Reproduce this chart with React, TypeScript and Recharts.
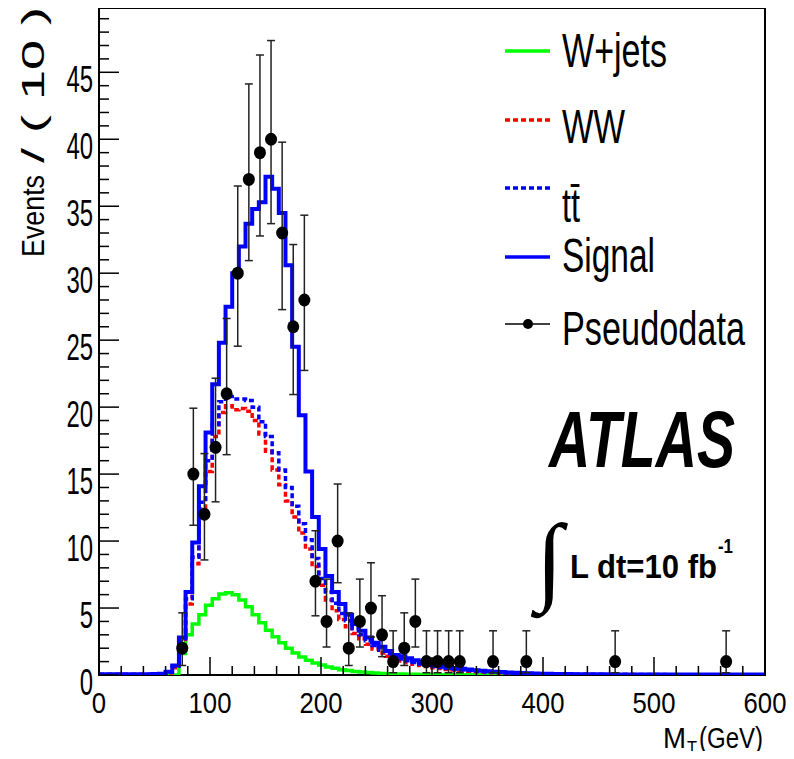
import React from "react";
import {
  ComposedChart, Line, Scatter, ErrorBar, XAxis, YAxis, Legend, ReferenceArea,
} from "recharts";

// histogram contents, 100 bins of 6 GeV from 0 to 600
const WJETS = [
  0, 0, 0, 0, 0, 0, 0, 0, 0, 0,
  0, 0, 1.6, 3.0, 3.8, 4.5, 5.2, 5.7, 6.05, 6.15,
  6.0, 5.6, 5.1, 4.5, 3.9, 3.35, 2.85, 2.4, 2.0, 1.65,
  1.35, 1.1, 0.9, 0.75, 0.6, 0.5, 0.4, 0.33, 0.27, 0.22,
  0.18, 0.15, 0.12, 0.1, 0.08, 0.07, 0.06, 0.05, 0.04, 0.03,
  0.03, 0.02, 0.02, 0.02, 0.01, 0.01, 0.01, 0.01, 0.01, 0.01,
  0, 0, 0, 0, 0, 0, 0, 0, 0, 0,
  0, 0, 0, 0, 0, 0, 0, 0, 0, 0,
  0, 0, 0, 0, 0, 0, 0, 0, 0, 0,
  0, 0, 0, 0, 0, 0, 0, 0, 0, 0,
];
const WW = [
  0.03, 0.03, 0.03, 0.03, 0.03, 0.03, 0.03, 0.03, 0.05, 0.07,
  0.15, 0.55, 2.5, 5.3, 8.3, 12.4, 15.2, 17.8, 19.6, 20.1,
  19.8, 19.9, 19.7, 19.0, 18.0, 16.7, 15.3, 14.2, 13.0, 11.8,
  10.6, 9.4, 8.1, 6.7, 5.6, 4.8, 4.15, 3.6, 3.1, 2.7,
  2.3, 1.95, 1.65, 1.4, 1.2, 1.05, 0.92, 0.81, 0.71, 0.63,
  0.55, 0.48, 0.42, 0.37, 0.32, 0.28, 0.25, 0.22, 0.19, 0.17,
  0.15, 0.13, 0.11, 0.1, 0.09, 0.08, 0.07, 0.06, 0.05, 0.05,
  0.04, 0.04, 0.04, 0.04, 0.03, 0.03, 0.03, 0.03, 0.03, 0.03,
  0.02, 0.02, 0.02, 0.02, 0.02, 0.02, 0.02, 0.02, 0.02, 0.02,
  0.02, 0.02, 0.02, 0.02, 0.02, 0.02, 0.02, 0.02, 0.02, 0.02,
];
const TTBAR = [
  0.04, 0.04, 0.04, 0.04, 0.04, 0.04, 0.04, 0.04, 0.06, 0.08,
  0.2, 0.65, 2.7, 5.7, 8.8, 12.9, 16.0, 18.7, 20.4, 20.8,
  20.6, 20.6, 20.5, 20.0, 18.9, 17.8, 16.6, 15.3, 14.0, 12.6,
  11.3, 10.1, 8.7, 7.2, 6.2, 5.35, 4.6, 4.05, 3.45, 3.0,
  2.55, 2.2, 1.85, 1.6, 1.4, 1.2, 1.06, 0.94, 0.83, 0.73,
  0.64, 0.56, 0.49, 0.43, 0.38, 0.33, 0.29, 0.26, 0.23, 0.2,
  0.18, 0.16, 0.14, 0.12, 0.11, 0.1, 0.09, 0.08, 0.07, 0.06,
  0.06, 0.05, 0.05, 0.05, 0.04, 0.04, 0.04, 0.04, 0.03, 0.03,
  0.03, 0.03, 0.03, 0.03, 0.03, 0.02, 0.02, 0.02, 0.02, 0.02,
  0.02, 0.02, 0.02, 0.02, 0.02, 0.02, 0.02, 0.02, 0.02, 0.02,
];
const SIGNAL = [
  0.05, 0.05, 0.05, 0.05, 0.05, 0.05, 0.05, 0.05, 0.08, 0.1,
  0.25, 0.7, 2.8, 6.2, 9.9, 14.1, 18.1, 21.7, 24.8, 27.5,
  30.0, 32.0, 33.7, 34.8, 35.3, 37.2, 36.3, 34.5, 30.6, 24.5,
  19.4, 15.2, 11.8, 9.4, 7.4, 6.2, 5.3, 4.5, 3.8, 3.3,
  2.8, 2.4, 2.1, 1.8, 1.5, 1.4, 1.25, 1.1, 0.97, 0.86,
  0.76, 0.67, 0.59, 0.52, 0.46, 0.41, 0.36, 0.32, 0.28, 0.25,
  0.22, 0.19, 0.17, 0.15, 0.13, 0.12, 0.1, 0.09, 0.08, 0.07,
  0.07, 0.06, 0.06, 0.05, 0.05, 0.05, 0.04, 0.04, 0.04, 0.04,
  0.03, 0.03, 0.03, 0.03, 0.03, 0.03, 0.03, 0.03, 0.03, 0.03,
  0.03, 0.03, 0.03, 0.03, 0.03, 0.03, 0.03, 0.03, 0.03, 0.03,
];

// pseudodata, 10 GeV bins (centres), with asymmetric poisson errors
const DATA_X = [75, 85, 95, 105, 115, 125, 135, 145, 155, 165, 175, 185, 195, 205, 215, 225, 235, 245, 255, 265, 275, 285, 295, 305, 315, 325, 355, 385, 465, 565];
const DATA_Y = [2, 15, 12, 17, 21, 30, 37, 39, 40, 33, 26, 28, 7, 4, 10, 2, 4, 5, 3, 1, 2, 4, 1, 1, 1, 1, 1, 1, 1, 1];
const ERR_LO = [1.29, 3.82, 3.41, 4.07, 4.55, 5.45, 6.06, 6.22, 6.3, 5.72, 5.06, 5.26, 2.58, 1.91, 3.11, 1.29, 1.91, 2.16, 1.63, 0.83, 1.29, 1.91, 0.83, 0.83, 0.83, 0.83, 0.83, 0.83, 0.83, 0.83];
const ERR_HI = [2.64, 4.92, 4.53, 5.16, 5.62, 6.51, 7.13, 7.29, 7.37, 6.78, 6.14, 6.33, 3.77, 3.16, 4.26, 2.64, 3.16, 3.38, 2.92, 2.3, 2.64, 3.16, 2.3, 2.3, 2.3, 2.3, 2.3, 2.3, 2.3, 2.3];

const X_LABELS = [0, 100, 200, 300, 400, 500, 600];
const Y_LABELS = [0, 5, 10, 15, 20, 25, 30, 35, 40, 45];
const Y_MAX = 49.8;

const BIN = 6;
const histRows = Array.from({ length: SIGNAL.length + 1 }, (_, k) => {
  const i = Math.min(k, SIGNAL.length - 1);
  return { x: k * BIN, wjets: WJETS[i], ww: WW[i], tt: TTBAR[i], signal: SIGNAL[i] };
});
const dataRows = DATA_X.map((x, i) => ({ x, y: DATA_Y[i], err: [ERR_LO[i], ERR_HI[i]] }));

const xTicks = Array.from({ length: 31 }, (_, i) => i * 20);
const yTicks = Array.from({ length: 50 }, (_, i) => i);

const FONT = "'Liberation Sans', Arial, Helvetica, sans-serif";

const renderXTick = (props: any) => {
  const { x, y, payload } = props;
  const v = payload.value;
  const major = X_LABELS.includes(v);
  const s = String(v);
  return (
    <g>
      <line x1={x} x2={x} y1={y} y2={y - (major ? 18 : 9)} stroke="#000" strokeWidth={1.5} />
      {major && (
        <text x={x} y={y + 38} textAnchor="middle" fontFamily={FONT} fontSize={30}
          textLength={14.3 * s.length} lengthAdjust="spacingAndGlyphs" fill="#000">{s}</text>
      )}
    </g>
  );
};

const renderYTick = (props: any) => {
  const { x, y, payload } = props;
  const v = payload.value;
  const major = Y_LABELS.includes(v);
  const s = String(v);
  return (
    <g>
      <line x1={x} x2={x + (major ? 20 : 10)} y1={y} y2={y} stroke="#000" strokeWidth={1.5} />
      {major && (
        <text x={x - 6} y={y + 20} textAnchor="end" fontFamily={FONT} fontSize={36}
          textLength={13.3 * s.length} lengthAdjust="spacingAndGlyphs" fill="#000">{s}</text>
      )}
    </g>
  );
};

const LEGEND = [
  { label: "W+jets", color: "#00ff00", dash: undefined, y: 51, base: 67, len: 105 },
  { label: "WW", color: "#ff0000", dash: "5 3", y: 120, base: 143, len: 63 },
  { label: "tt\u0304", color: "#0000ff", dash: "5 3", y: 188, base: 222, len: 18 },
  { label: "Signal", color: "#0000ff", dash: undefined, y: 257, base: 272, len: 93 },
  { label: "Pseudodata", color: "#000", dash: undefined, y: 324, base: 345, len: 183, marker: true },
];

const LegendBox = () => (
  <svg width={794} height={759} style={{ position: "absolute", left: 0, top: 0 }}>
    {LEGEND.map((e) => (
      <g key={e.label}>
        <line x1={505} x2={550} y1={e.y} y2={e.y} stroke={e.color}
          strokeWidth={e.marker ? 1.5 : 3.5} strokeDasharray={e.dash} />
        {e.marker && <circle cx={528} cy={e.y} r={5} fill="#000" />}
        <text x={562} y={e.base} fontFamily={FONT} fontSize={48} textLength={e.len}
          lengthAdjust="spacingAndGlyphs" fill="#000">{e.label}</text>
      </g>
    ))}
  </svg>
);

const Dot = (props: any) => (
  <ellipse cx={props.cx} cy={props.cy} rx={6} ry={6.5} fill="#000" />
);

export default function App() {
  return (
    <div style={{ position: "relative", width: 794, height: 759, margin: -8, background: "#fff" }}>
      <ComposedChart width={794} height={759} data={histRows}
        margin={{ top: 8, right: 29, left: 0, bottom: 0 }}>
        <XAxis type="number" dataKey="x" domain={[0, 600]} ticks={xTicks} interval={0}
          allowDataOverflow height={84} axisLine={false} tickLine={false}
          tickSize={0} tickMargin={0} tick={renderXTick} />
        <YAxis type="number" domain={[0, Y_MAX]} ticks={yTicks} interval={0}
          allowDataOverflow width={99} axisLine={false} tickLine={false}
          tickSize={0} tickMargin={0} tick={renderYTick} />
        <ReferenceArea x1={0} x2={600} y1={0} y2={Y_MAX} fill="none" fillOpacity={0}
          stroke="#000" strokeWidth={2} ifOverflow="visible" />
        <Line type="stepAfter" dataKey="wjets" name="W+jets" stroke="#00ff00" strokeWidth={3.5}
          dot={false} activeDot={false} isAnimationActive={false} />
        <Line type="stepAfter" dataKey="ww" name="WW" stroke="#ff0000" strokeWidth={3.5}
          strokeDasharray="5 3" dot={false} activeDot={false} isAnimationActive={false} />
        <Line type="stepAfter" dataKey="tt" name="tt" stroke="#0000ff" strokeWidth={3.5}
          strokeDasharray="5 3" dot={false} activeDot={false} isAnimationActive={false} />
        <Line type="stepAfter" dataKey="signal" name="Signal" stroke="#0000ff" strokeWidth={4}
          dot={false} activeDot={false} isAnimationActive={false} />
        <Scatter data={dataRows} dataKey="y" name="Pseudodata" shape={Dot} isAnimationActive={false}>
          <ErrorBar dataKey="err" direction="y" width={4} stroke="#222" strokeWidth={1.5} />
        </Scatter>
        <Legend content={LegendBox} layout="horizontal" verticalAlign="middle" align="center"
          wrapperStyle={{ position: "absolute", left: 0, top: 0, width: 794, height: 759 }} />
      </ComposedChart>

      <svg width={794} height={759} style={{ position: "absolute", left: 0, top: 0, pointerEvents: "none" }}>
        <text transform="translate(44,257) rotate(-90)" fontFamily={FONT} fontSize={31}
          textLength={82} lengthAdjust="spacingAndGlyphs">Events</text>
        <text transform="translate(44,163) rotate(-90)" fontFamily={FONT} fontSize={31}
          textLength={156} lengthAdjust="spacingAndGlyphs">/ ( 10 )</text>

        <text x={663} y={748} fontFamily={FONT} fontSize={30} textLength={23} lengthAdjust="spacingAndGlyphs">M</text>
        <text x={687} y={755} fontFamily={FONT} fontSize={20} textLength={10} lengthAdjust="spacingAndGlyphs">T</text>
        <text x={699} y={748} fontFamily={FONT} fontSize={30} textLength={64} lengthAdjust="spacingAndGlyphs">(GeV)</text>

        <text x={549} y={467} fontFamily={FONT} fontSize={79} fontWeight="bold" fontStyle="italic"
          textLength={186} lengthAdjust="spacingAndGlyphs">ATLAS</text>
        <text x={536} y={592} fontFamily="'Liberation Serif', 'DejaVu Serif', serif" fontSize={98}>∫</text>
        <text x={570} y={578} fontFamily={FONT} fontSize={33} fontWeight="bold"
          textLength={147} lengthAdjust="spacingAndGlyphs">L dt=10 fb</text>
        <text x={718} y={553} fontFamily={FONT} fontSize={20} fontWeight="bold"
          textLength={15} lengthAdjust="spacingAndGlyphs">-1</text>
      </svg>
    </div>
  );
}
